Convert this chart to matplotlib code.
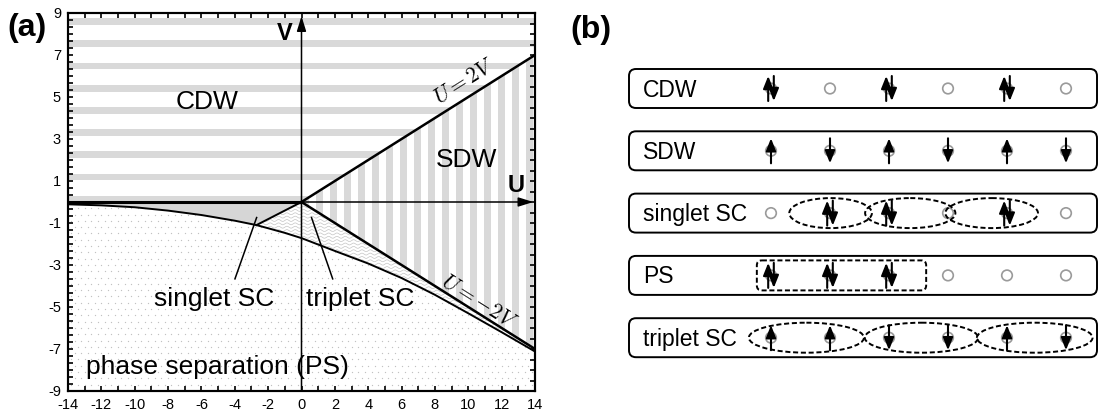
import numpy as np
import matplotlib
matplotlib.use('Agg')
import matplotlib.pyplot as plt
import matplotlib.patches as patches
from matplotlib.ticker import MultipleLocator

plt.rcParams['font.family'] = ['Liberation Sans', 'DejaVu Sans']
plt.rcParams['mathtext.fontset'] = 'cm'
plt.rcParams['axes.unicode_minus'] = False

# ---- (a) phase diagram data (U, V) ----
u_ps = [-14, -12, -10, -8, -6, -4, -2.7, -2, -1, 0, 2, 4, 6, 8, 10, 12, 14]
v_ps = [-0.11, -0.16, -0.25, -0.41, -0.62, -0.89, -1.1, -1.25, -1.47, -1.72,
        -2.33, -2.93, -3.62, -4.42, -5.3, -6.2, -7.12]
u_line = [0, 14]
v_cdw_sdw = [0, 7]     # U = 2V
v_sdw_sc = [0, -7]     # U = -2V
u_split, v_split = -2.7, -1.1   # singlet / triplet boundary meets PS curve

# ---- (b) chain configurations ----
chain_labels = ['CDW', 'SDW', 'singlet SC', 'PS', 'triplet SC']
chain_sites = [
    ['ud', '0', 'ud', '0', 'ud', '0'],
    ['u', 'd', 'u', 'd', 'u', 'd'],
    ['0', 'ud', 'ud', '0', 'ud', '0'],
    ['ud', 'ud', 'ud', '0', '0', '0'],
    ['u', 'u', 'd', 'd', 'u', 'd'],
]
singlet_pairs = [(1.01, 1.40), (2.36, 1.53), (3.74, 1.57)]   # (centre, width) in sites
triplet_pairs = [(0.6, 1.95), (2.55, 1.92), (4.47, 1.96)]
ps_cluster = (-0.24, 2.63)

stripe = '#d9d9d9'

fig = plt.figure(figsize=(11, 4.12), dpi=100)

# ================= panel (a) =================
ax = fig.add_axes([68/1100, 21/412, 467/1100, 378/412])
ax.set_xlim(-14, 14)
ax.set_ylim(-9, 9)


def region(verts):
    p = patches.Polygon(verts, closed=True, fc='none', ec='none')
    ax.add_patch(p)
    return p


# CDW: horizontal stripes
cdw_poly = region([(-14, 0), (0, 0), (u_line[1], v_cdw_sdw[1]), (14, 9), (-14, 9)])
for yc in np.arange(0.13, 9.2, 1.058):
    r = ax.axhspan(yc - 0.16, yc + 0.16, color=stripe, lw=0, zorder=1)
    r.set_clip_path(cdw_poly)

# SDW: vertical stripes
sdw_poly = region([(0, 0), (u_line[1], v_cdw_sdw[1]), (u_line[1], v_sdw_sc[1])])
for xc in np.arange(0.22, 14.3, 0.84):
    r = ax.axvspan(xc - 0.2, xc + 0.2, color=stripe, lw=0, zorder=1)
    r.set_clip_path(sdw_poly)

# singlet SC: solid grey
left = [(u, v) for u, v in zip(u_ps, v_ps) if u <= u_split]
ax.add_patch(patches.Polygon([(-14, 0), (0, 0)] + left[::-1], closed=True,
                             fc='#d6d6d6', ec='none', zorder=1))

# triplet SC: wavy lines
right = [(u, v) for u, v in zip(u_ps, v_ps) if u >= u_split]
trip_poly = region([(0, 0)] + right + [(u_line[1], v_sdw_sc[1])])
xw = np.linspace(-3, 14, 900)
for y0 in np.arange(-7.6, 0.2, 0.16):
    ln, = ax.plot(xw, y0 + 0.045*np.sin(2*np.pi*xw/0.5), color='#c4c4c4', lw=0.5, zorder=1)
    ln.set_clip_path(trip_poly)

# phase separation: dots
ps_poly = region(list(zip(u_ps, v_ps)) + [(14, -9), (-14, -9)])
gx, gy = [], []
for j, yy in enumerate(np.arange(-9, 0.2, 0.3)):
    xs = np.arange(-14 + 0.2*(j % 2), 14, 0.4)
    gx.extend(xs)
    gy.extend([yy]*len(xs))
sc = ax.scatter(gx, gy, s=0.9, color='#c2c2c2', lw=0, zorder=1)
sc.set_clip_path(ps_poly)

# boundaries
ax.plot([-14, 0], [0, 0], color='k', lw=2.2, zorder=3)
ax.plot(u_line, v_cdw_sdw, color='k', lw=1.8, zorder=3)
ax.plot(u_line, v_sdw_sc, color='k', lw=1.8, zorder=3)
ax.plot(u_ps, v_ps, color='k', lw=1.4, zorder=3)
ax.plot([0, u_split], [0, v_split], color='k', lw=1.4, zorder=3)

# U and V axes with arrows
arr = dict(arrowstyle='-|>,head_length=0.45,head_width=0.14', color='k', lw=1.1,
           mutation_scale=20, shrinkA=0, shrinkB=0)
ax.annotate('', xy=(13.9, 0), xytext=(-14, 0), arrowprops=arr, zorder=4)
ax.annotate('', xy=(0, 8.85), xytext=(0, -9), arrowprops=arr, zorder=4)
ax.text(-1.02, 7.71, 'V', fontsize=17, fontweight='bold', ha='center', va='baseline')
ax.text(12.87, 0.49, 'U', fontsize=17, fontweight='bold', ha='center', va='baseline')

# labels
ax.text(-5.64, 4.41, 'CDW', fontsize=19, ha='center', va='baseline', zorder=5)
ax.text(9.87, 1.68, 'SDW', fontsize=19, ha='center', va='baseline', zorder=5)
ax.text(-5.22, -4.95, 'singlet SC', fontsize=19, ha='center', va='baseline', zorder=5)
ax.text(3.52, -4.95, 'triplet SC', fontsize=19, ha='center', va='baseline', zorder=5)
ax.text(-12.92, -8.19, 'phase separation (PS)', fontsize=19, ha='left', va='baseline', zorder=5)
ax.plot([-3.99, -2.69], [-3.66, -0.74], color='k', lw=1.1, zorder=4)
ax.plot([1.87, 0.6], [-3.66, -0.74], color='k', lw=1.1, zorder=4)
ax.text(8.2, 4.68, r'$U=2V$', fontsize=15.5, rotation=32.2, rotation_mode='anchor',
        ha='left', va='baseline', zorder=5)
ax.text(8.3, -3.9, r'$U=-2V$', fontsize=15.5, rotation=-32.2, rotation_mode='anchor',
        ha='left', va='baseline', zorder=5)

# ticks
ax.xaxis.set_major_locator(MultipleLocator(2))
ax.xaxis.set_minor_locator(MultipleLocator(1))
ax.set_yticks(np.arange(-9, 10, 2))
ax.yaxis.set_minor_locator(MultipleLocator(1/3))
ax.tick_params(which='both', direction='in', top=True, right=False, length=3.5,
               width=1.2, labelsize=10.5, pad=5)
axr = ax.twinx()
axr.set_ylim(-9, 9)
axr.yaxis.set_major_locator(MultipleLocator(0.5))
axr.tick_params(direction='in', length=3.5, width=1.2, labelright=False)
for a in (ax, axr):
    for s in a.spines.values():
        s.set_linewidth(1.5)

fig.text(27/1100, 1 - 28/412, '(a)', fontsize=23, fontweight='bold', ha='center', va='center')

# ================= panel (b) =================
bx = fig.add_axes([600/1100, 0, 500/1100, 1])
bx.set_xlim(600, 1100)
bx.set_ylim(412, 0)
bx.axis('off')
bx.text(591, 30, '(b)', fontsize=23, fontweight='bold', ha='center', va='center')

site_x0, site_dx = 771, 59
row_y0, row_dy = 88.5, 62.3
dash = (0, (2.6, 1.4))


def spin(x, yc, up):
    a, b = (yc + 12.5, yc - 12.5) if up else (yc - 12.5, yc + 12.5)
    bx.add_patch(patches.FancyArrowPatch((x, a), (x, b),
                 arrowstyle='-|>,head_length=0.5,head_width=0.2', mutation_scale=15,
                 lw=1.5, color='k', shrinkA=0, shrinkB=0, zorder=4))


for r, (label, sites) in enumerate(zip(chain_labels, chain_sites)):
    yc = row_y0 + r*row_dy
    bx.add_patch(patches.FancyBboxPatch((629, yc - 19.5), 468, 39,
                 boxstyle='round,pad=0,rounding_size=7', fc='white', ec='k', lw=1.4, zorder=1))
    bx.text(643, yc + 8, label, fontsize=16.5, ha='left', va='baseline', zorder=5)
    for i, s in enumerate(sites):
        x = site_x0 + i*site_dx
        bx.add_patch(patches.Circle((x, yc), 5.3, fc='white', ec='#9a9a9a', lw=1.2, zorder=2))
        if s == 'u':
            spin(x, yc, True)
        elif s == 'd':
            spin(x, yc, False)
        elif s == 'ud':
            spin(x - 2.8, yc, True)
            spin(x + 2.8, yc, False)
    pairs = {'singlet SC': singlet_pairs, 'triplet SC': triplet_pairs}.get(label, [])
    for c, w in pairs:
        bx.add_patch(patches.Ellipse((site_x0 + c*site_dx, yc), w*site_dx, 30,
                     fill=False, ec='k', lw=1.4, ls=dash, zorder=5))
    if label == 'PS':
        x0 = site_x0 + ps_cluster[0]*site_dx
        x1 = site_x0 + ps_cluster[1]*site_dx
        bx.add_patch(patches.FancyBboxPatch((x0, yc - 15), x1 - x0, 30,
                     boxstyle='round,pad=0,rounding_size=5', fill=False, ec='k',
                     lw=1.4, ls=dash, zorder=5))

fig.savefig('out.png', dpi=100)
